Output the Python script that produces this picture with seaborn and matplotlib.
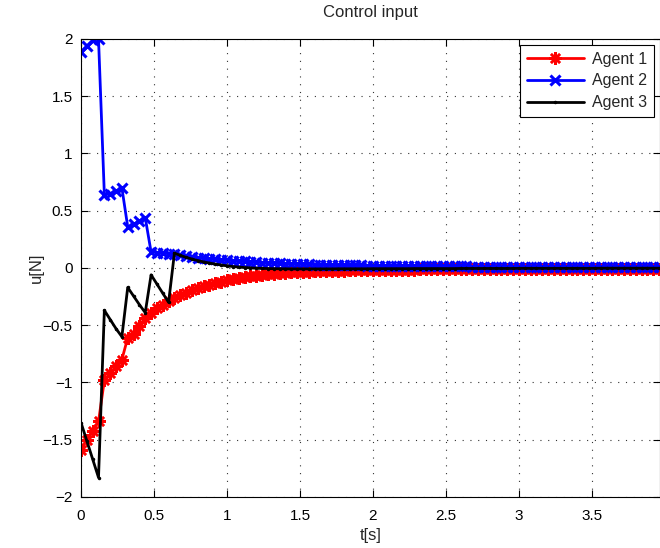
import numpy as np
import pandas as pd
import matplotlib
matplotlib.use("Agg")
import matplotlib.pyplot as plt
import seaborn as sns

dt = 0.04
agent1 = [-1.59,-1.50,-1.42,-1.34,-0.98,-0.92,-0.86,-0.80,-0.61,-0.58,-0.51,-0.44,-0.39,-0.35,-0.32,-0.29,-0.26,-0.235,-0.215,-0.195,
          -0.175,-0.16,-0.145,-0.13,-0.12,-0.108,-0.098,-0.088,-0.08,-0.072,-0.066,-0.06,-0.055,-0.05,-0.046,-0.042,-0.039,-0.036,-0.033,-0.031,
          -0.029,-0.027,-0.026,-0.024,-0.023,-0.022,-0.021,-0.020,-0.019,-0.018,-0.018,-0.017,-0.016,-0.016,-0.015,-0.015,-0.014,-0.014,-0.013,-0.013,
          -0.013,-0.012,-0.012,-0.012,-0.011,-0.011,-0.011,-0.011,-0.010,-0.010,-0.010,-0.010,-0.010,-0.009,-0.009,-0.009,-0.009,-0.009,-0.009,-0.008,
          -0.008,-0.008,-0.008,-0.008,-0.008,-0.008,-0.007,-0.007,-0.007,-0.007,-0.007,-0.007,-0.007,-0.007,-0.006,-0.006,-0.006,-0.006,-0.006,-0.006]
agent2 = [1.89,1.94,1.99,2.00,0.64,0.65,0.67,0.70,0.36,0.38,0.41,0.44,0.14,0.135,0.13,0.125,0.118,0.11,0.103,0.097,
          0.091,0.086,0.081,0.076,0.072,0.068,0.064,0.060,0.057,0.054,0.051,0.048,0.045,0.043,0.041,0.039,0.037,0.035,0.033,0.032,
          0.030,0.029,0.028,0.027,0.026,0.025,0.024,0.023,0.022,0.021,0.021,0.020,0.019,0.019,0.018,0.018,0.017,0.017,0.016,0.016,
          0.016,0.015,0.015,0.015,0.014,0.014,0.014,0.013,0.013,0.013,0.013,0.012,0.012,0.012,0.012,0.012,0.011,0.011,0.011,0.011,
          0.011,0.011,0.010,0.010,0.010,0.010,0.010,0.010,0.010,0.009,0.009,0.009,0.009,0.009,0.009,0.009,0.009,0.008,0.008,0.008]
agent3 = [-1.35,-1.51,-1.67,-1.83,-0.37,-0.45,-0.53,-0.60,-0.17,-0.245,-0.32,-0.39,-0.06,-0.14,-0.22,-0.30,0.13,0.11,0.093,0.078,
          0.065,0.053,0.043,0.034,0.026,0.019,0.013,0.008,0.004,0.001,-0.002,-0.004,-0.005,-0.006,-0.007,-0.007,-0.008,-0.008,-0.008,-0.008,
          -0.008,-0.008,-0.008,-0.008,-0.007,-0.007,-0.007,-0.007,-0.007,-0.007,-0.006,-0.006,-0.006,-0.006,-0.006,-0.006,-0.006,-0.005,-0.005,-0.005,
          -0.005,-0.005,-0.005,-0.005,-0.005,-0.004,-0.004,-0.004,-0.004,-0.004,-0.004,-0.004,-0.004,-0.004,-0.004,-0.003,-0.003,-0.003,-0.003,-0.003,
          -0.003,-0.003,-0.003,-0.003,-0.003,-0.003,-0.003,-0.003,-0.003,-0.002,-0.002,-0.002,-0.002,-0.002,-0.002,-0.002,-0.002,-0.002,-0.002,-0.002]

labels = ["Agent 1", "Agent 2", "Agent 3"]
xticks = [0, 0.5, 1, 1.5, 2, 2.5, 3, 3.5]
yticks = [-2, -1.5, -1, -0.5, 0, 0.5, 1, 1.5, 2]

sns.set_style("ticks")
plt.rcParams['font.family'] = ['Liberation Sans', 'DejaVu Sans']

fig = plt.figure(figsize=(6.6, 5.48), dpi=100)
ax = fig.add_axes([81/660, 1-497/548, 579/660, 458/548])

styles = [
    dict(color="#ff0000", marker=(8, 2, 0), markersize=9, markeredgewidth=1.8),
    dict(color="#0000ff", marker="x", markersize=7.5, markeredgewidth=2.2),
    dict(color="#000000", marker=".", markersize=3, markeredgewidth=1),
]
for vals, lab, st in zip([agent1, agent2, agent3], labels, styles):
    t = np.arange(len(vals)) * dt
    df = pd.DataFrame({"t": t, "u": vals})
    sns.lineplot(data=df, x="t", y="u", ax=ax, label=lab, linewidth=2,
                 markeredgecolor=st["color"], **st)

ax.set_xlim(0, 3.966)
ax.set_ylim(-2, 2)
ax.set_xticks(xticks)
ax.set_xticklabels([f"{v:g}" for v in xticks])
ax.set_yticks(yticks)
ax.set_yticklabels([f"{v:g}".replace("-", "\u2212") for v in yticks])
ax.tick_params(direction="in", top=True, right=True, length=5, width=0.8,
               labelsize=11, colors="black")
ax.tick_params(axis="x", pad=9)
ax.tick_params(axis="y", pad=6)
for s in ax.spines.values():
    s.set_color("black")
    s.set_linewidth(0.8)
ax.grid(True, linestyle=(0, (1, 6)), color="#333333", linewidth=0.8)
ax.set_axisbelow(True)
ax.set_title("Control input", fontsize=12, pad=16)
ax.set_xlabel("t[s]", fontsize=12, labelpad=3)
ax.set_ylabel("u[N]", fontsize=12, labelpad=-1)

leg = ax.legend(loc="upper right", fontsize=11.5, handlelength=3.6, fancybox=False,
                edgecolor="black", framealpha=1, borderaxespad=0.4,
                labelspacing=0.42, handletextpad=0.5, borderpad=0.4)
leg.get_frame().set_linewidth(0.8)

fig.savefig("out.png", dpi=100)
